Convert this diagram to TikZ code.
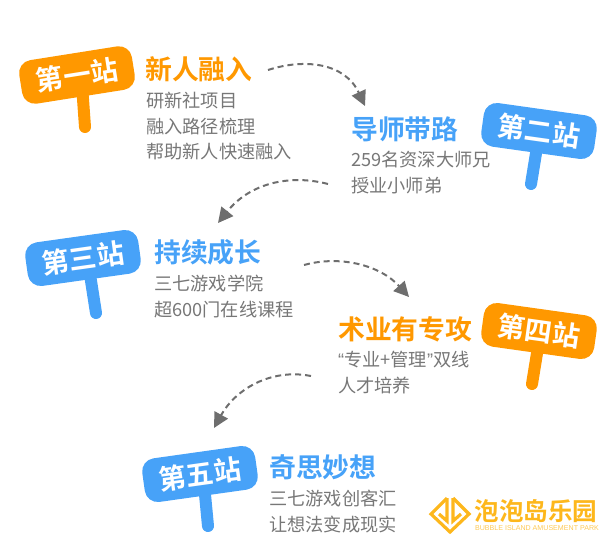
\documentclass[tikz,border=0pt]{standalone}
\usepackage{fontspec}
\setmainfont{Noto Sans CJK SC}[BoldFont={Noto Sans CJK SC Bold}]
\setsansfont{Liberation Sans}
\usetikzlibrary{arrows.meta}
\usetikzlibrary{backgrounds}
\definecolor{signorange}{HTML}{FF9800}
\definecolor{signblue}{HTML}{47A2F8}
\definecolor{bodygray}{HTML}{777777}
\definecolor{arrowgray}{HTML}{6E6E6E}
\definecolor{logogold}{HTML}{FDB71C}
\begin{document}
\begin{tikzpicture}[x=1pt,y=-1pt]
\tikzstyle{sign}=[rectangle, rounded corners=13pt, minimum width=114pt, minimum height=44pt, inner sep=0pt, text=white, font=\fontsize{27.5}{27.5}\selectfont\bfseries]
\tikzstyle{post}=[line width=12pt, line cap=round]
\tikzstyle{headline}=[anchor=west, inner sep=0pt, font=\fontsize{26.8}{26.8}\selectfont\bfseries]
\tikzstyle{desc}=[below right, inner sep=0pt, align=left, text=bodygray, font=\fontsize{18.2}{25.5}\selectfont]
\tikzstyle{hop}=[draw=arrowgray, line width=2pt, dash pattern=on 6pt off 4pt, -{Stealth[length=15pt,width=15pt,inset=0pt]}]
\tikzstyle{logoline}=[draw=logogold, line width=3.2pt, miter limit=10]

\useasboundingbox (0,0) rectangle (615,541);

\node (sign1) at (77,75) [sign, fill=signorange, rotate=9] {第一站};
\coordinate (foot1) at (85,127);
\node (head1) at (145,69) [headline, text=signorange] {新人融入};
\node (desc1) [desc] at (146,92) {研新社项目\\融入路径梳理\\帮助新人快速融入};

\node (sign2) at (539,131) [sign, fill=signblue, rotate=-8] {第二站};
\coordinate (foot2) at (531,184);
\node (head2) at (351,129) [headline, text=signblue] {导师带路};
\node (desc2) [desc] at (351,151) {259名资深大师兄\\授业小师弟};

\node (sign3) at (83,258) [sign, fill=signblue, rotate=8] {第三站};
\coordinate (foot3) at (96,313);
\node (head3) at (154,252) [headline, text=signblue] {持续成长};
\node (desc3) [desc] at (154,275) {三七游戏学院\\超600门在线课程};

\node (sign4) at (539,331) [sign, fill=signorange, rotate=-8] {第四站};
\coordinate (foot4) at (532,384);
\node (head4) at (338,329) [headline, text=signorange] {术业有专攻};
\node (desc4) [desc] at (338,351) {{\sffamily “}专业+管理{\sffamily ”}双线\\人才培养};

\node (sign5) at (200,474) [sign, fill=signblue, rotate=8] {第五站};
\coordinate (foot5) at (208,526);
\node (head5) at (269,467) [headline, text=signblue] {奇思妙想};
\node (desc5) [desc] at (269,490) {三七游戏创客汇\\让想法变成现实};

\begin{scope}[on background layer]
\draw [post, signorange] (sign1.center) ++(5,10) -- (foot1);
\draw [post, signblue] (sign2.center) ++(-1,10) -- (foot2);
\draw [post, signblue] (sign3.center) ++(6,10) -- (foot3);
\draw [post, signorange] (sign4.center) ++(0,10) -- (foot4);
\draw [post, signblue] (sign5.center) ++(4,10) -- (foot5);
\end{scope}

% dashed hops between the stations
\coordinate (hop1a) at (268,70);
\coordinate (hop1b) at (365,106);
\coordinate (hop2a) at (328,184);
\coordinate (hop2b) at (218,223);
\coordinate (hop3a) at (304,265);
\coordinate (hop3b) at (409,297);
\coordinate (hop4a) at (311,376);
\coordinate (hop4b) at (214,428);
\draw [hop] (hop1a) .. controls (305,58) and (345,63) .. (hop1b);
\draw [hop] (hop2a) .. controls (290,174) and (250,183) .. (hop2b);
\draw [hop] (hop3a) .. controls (340,255) and (380,265) .. (hop3b);
\draw [hop] (hop4a) .. controls (270,368) and (235,390) .. (hop4b);

% logo
\draw [logoline] (447,498) -- (431,514) -- (450,532) -- (469,514) -- (453,498);
\draw [logoline] (447,498) -- (447,521) -- (439,514);
\draw [logoline] (453,498) -- (453,521) -- (461,514);
\node (logoname) at (536,511) [inner sep=0pt, text=logogold, font=\fontsize{24.6}{24.6}\selectfont\bfseries] {泡泡岛乐园};
\node (logosub) at (537,528) [inner sep=0pt, text=logogold!75, font=\sffamily\fontsize{7.1}{8}\selectfont] {BUBBLE ISLAND AMUSEMENT PARK};
\end{tikzpicture}
\end{document}
